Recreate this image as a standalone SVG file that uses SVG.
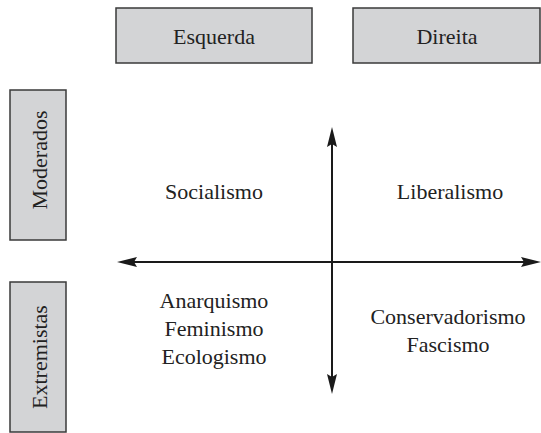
<svg xmlns="http://www.w3.org/2000/svg" width="541" height="433" viewBox="0 0 541 433">
<defs>
<path id="ahead" d="M0,0 L5,20 L0,17 L-5,20 Z" fill="#1a1a1a"/>
</defs>
<rect width="541" height="433" fill="#fff"/>
<g id="esquerda"><rect x="116" y="8" width="196" height="55" fill="#d3d4d6" stroke="#3a3a3a" stroke-width="1.5"/><text x="214" y="44" font-family="Times New Roman, Liberation Serif, serif" font-size="22" fill="#222" text-anchor="middle">Esquerda</text></g>
<g id="direita"><rect x="353" y="8" width="187" height="55" fill="#d3d4d6" stroke="#3a3a3a" stroke-width="1.5"/><text x="447" y="44" font-family="Times New Roman, Liberation Serif, serif" font-size="22" fill="#222" text-anchor="middle">Direita</text></g>
<g id="moderados"><rect x="10" y="90" width="56" height="150" fill="#d3d4d6" stroke="#3a3a3a" stroke-width="1.5"/><text transform="translate(47,160) rotate(-90)" font-family="Times New Roman, Liberation Serif, serif" font-size="22" fill="#222" text-anchor="middle">Moderados</text></g>
<g id="extremistas"><rect x="10" y="282" width="56" height="150" fill="#d3d4d6" stroke="#3a3a3a" stroke-width="1.5"/><text transform="translate(47,357) rotate(-90)" font-family="Times New Roman, Liberation Serif, serif" font-size="22" fill="#222" text-anchor="middle">Extremistas</text></g>
<g id="connectors" stroke="#1a1a1a" stroke-width="2">
<line x1="332" y1="140" x2="332" y2="380"/>
<line x1="130" y1="262" x2="530" y2="262"/>
<use href="#ahead" transform="translate(332,127)" stroke="none"/>
<use href="#ahead" transform="translate(332,394) rotate(180)" stroke="none"/>
<use href="#ahead" transform="translate(117,262) rotate(-90)" stroke="none"/>
<use href="#ahead" transform="translate(541,262) rotate(90)" stroke="none"/>
</g>
<g id="socialismo"><text x="214" y="199" font-family="Times New Roman, Liberation Serif, serif" font-size="22" fill="#222" text-anchor="middle">Socialismo</text></g>
<g id="liberalismo"><text x="450" y="199" font-family="Times New Roman, Liberation Serif, serif" font-size="22" fill="#222" text-anchor="middle">Liberalismo</text></g>
<g id="extremistas-esquerda"><text x="214" y="308" font-family="Times New Roman, Liberation Serif, serif" font-size="22" fill="#222" text-anchor="middle">Anarquismo</text><text x="214" y="336" font-family="Times New Roman, Liberation Serif, serif" font-size="22" fill="#222" text-anchor="middle">Feminismo</text><text x="214" y="364" font-family="Times New Roman, Liberation Serif, serif" font-size="22" fill="#222" text-anchor="middle">Ecologismo</text></g>
<g id="extremistas-direita"><text x="448" y="324" font-family="Times New Roman, Liberation Serif, serif" font-size="22" fill="#222" text-anchor="middle">Conservadorismo</text><text x="448" y="352" font-family="Times New Roman, Liberation Serif, serif" font-size="22" fill="#222" text-anchor="middle">Fascismo</text></g>
</svg>
